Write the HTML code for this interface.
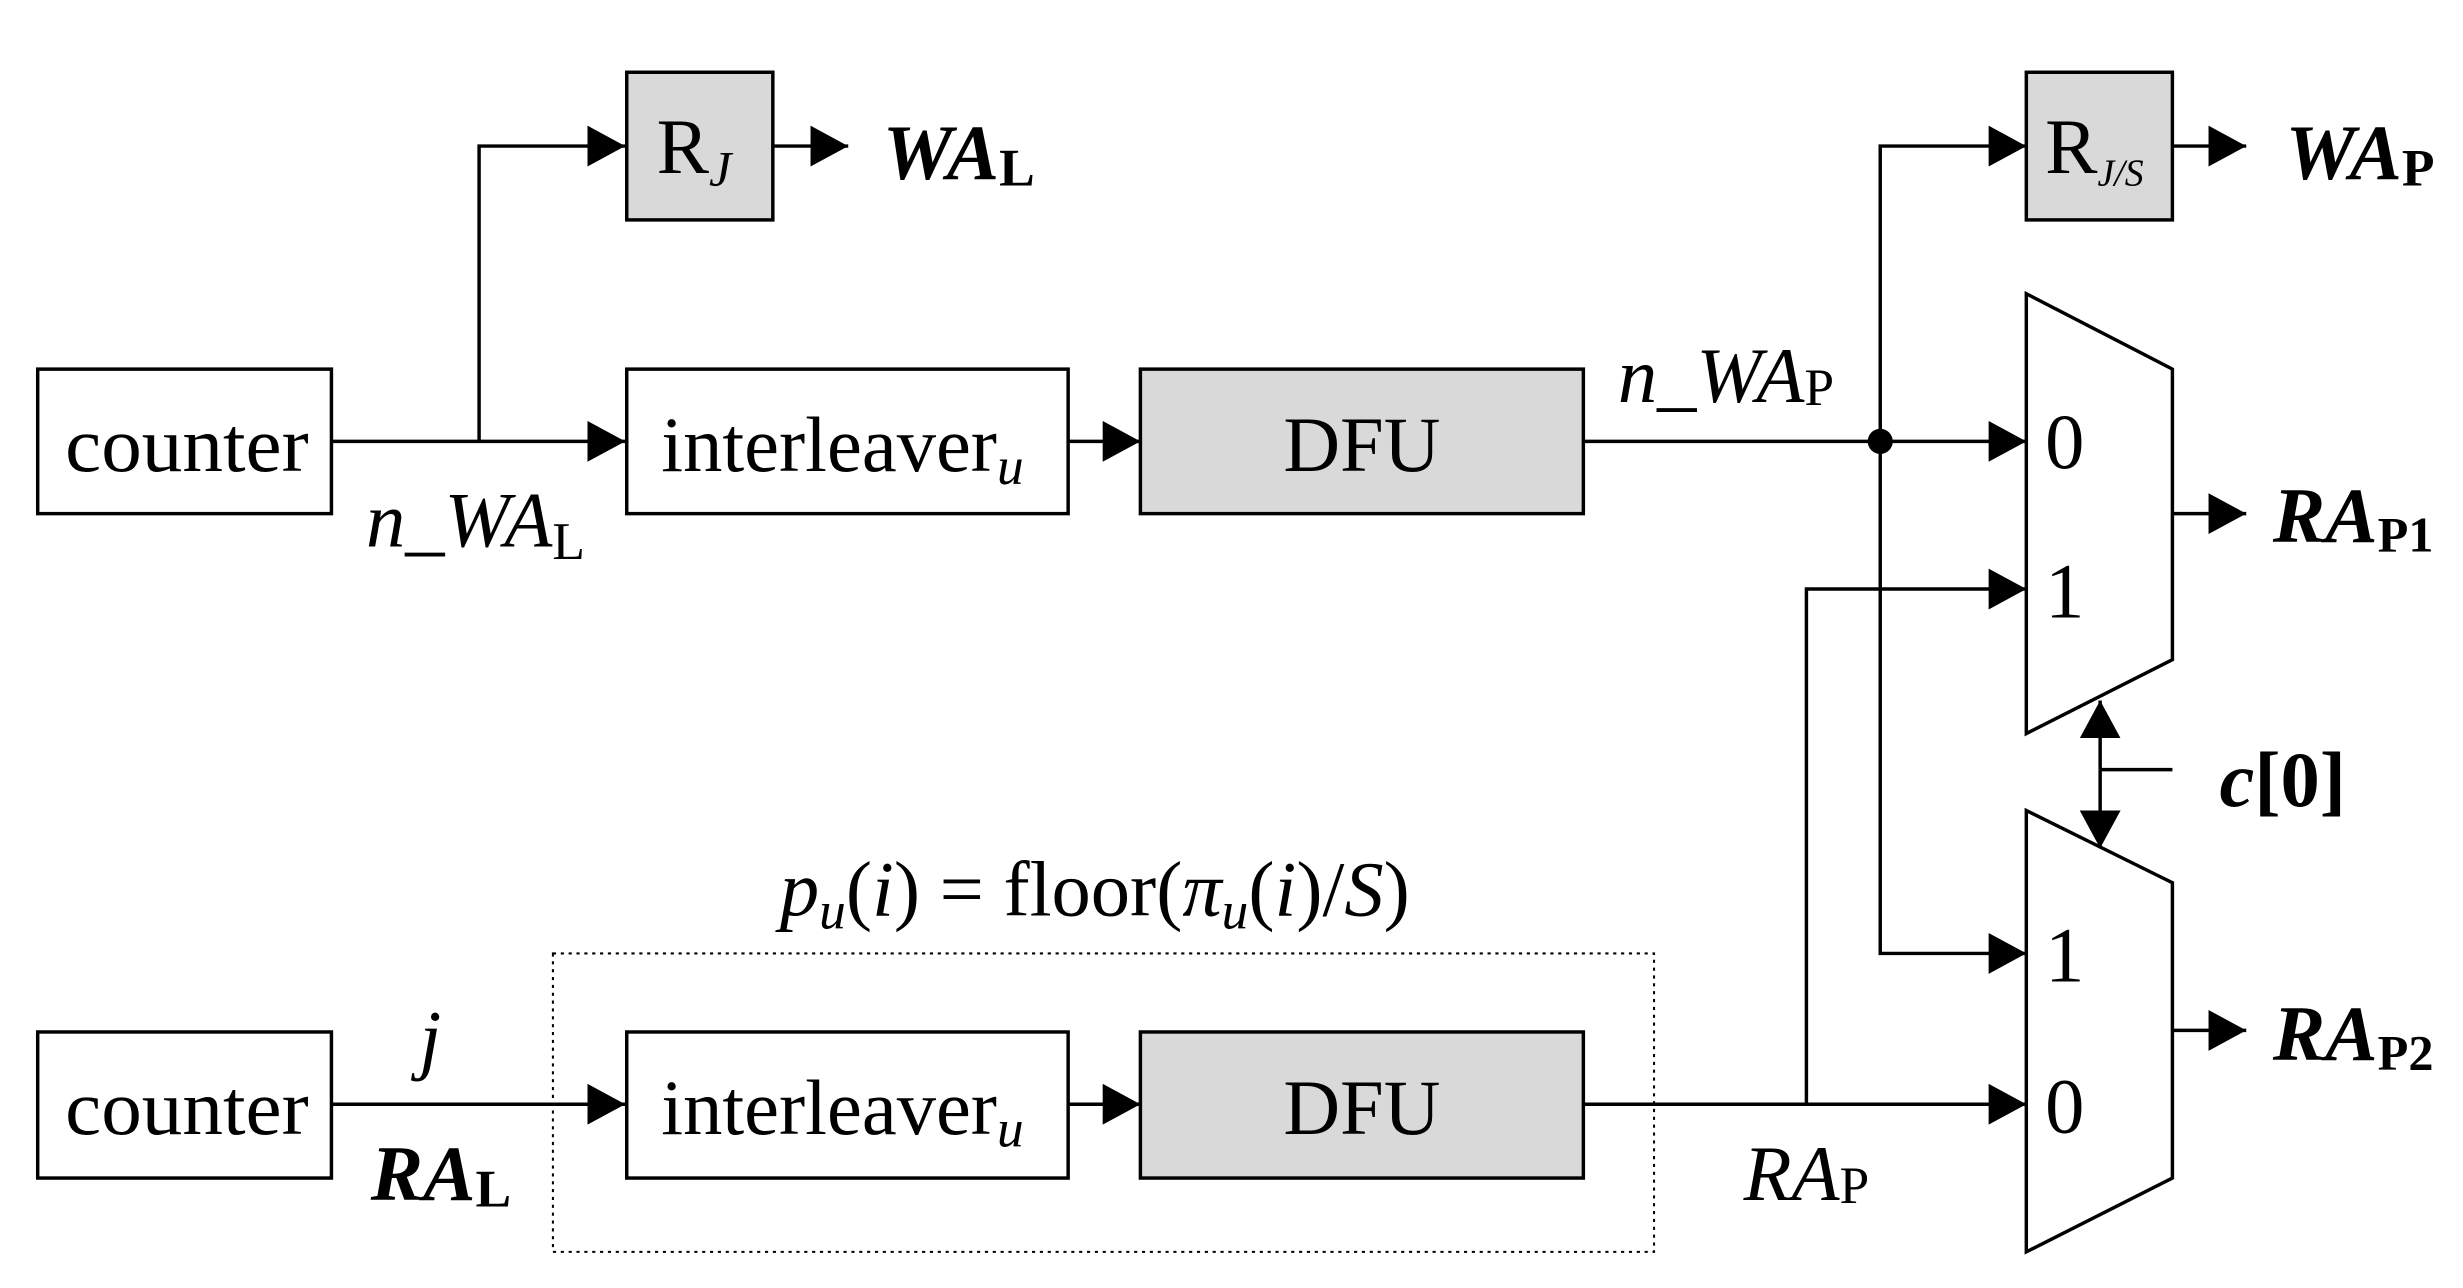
<!DOCTYPE html>
<html><head><meta charset="utf-8"><style>html,body{margin:0;padding:0;background:#fff}svg{display:block}</style></head><body>
<svg width="2463" height="1288" viewBox="0 0 1568 820" preserveAspectRatio="none" xmlns="http://www.w3.org/2000/svg" font-family="'Liberation Serif', serif">
<defs>
<marker id="a" markerWidth="24" markerHeight="26" refX="24" refY="13" orient="auto" markerUnits="userSpaceOnUse"><path d="M0,0 L24,13 L0,26 Z" fill="#000"/></marker>
</defs>
<g stroke="#000" stroke-width="2.2" fill="none">
<rect x="24" y="235" width="187" height="92" fill="#fff"/>
<rect x="399" y="46" width="93" height="94" fill="#d9d9d9"/>
<rect x="399" y="235" width="281" height="92" fill="#fff"/>
<rect x="726" y="235" width="282" height="92" fill="#d9d9d9"/>
<rect x="1290" y="46" width="93" height="94" fill="#d9d9d9"/>
<rect x="24" y="657" width="187" height="93" fill="#fff"/>
<rect x="399" y="657" width="281" height="93" fill="#fff"/>
<rect x="726" y="657" width="282" height="93" fill="#d9d9d9"/>
<rect x="352" y="607" width="701" height="190" stroke-width="1.3" stroke-dasharray="2,3"/>
<path d="M1290,187 L1383,235 L1383,420 L1290,467 Z" fill="#fff"/>
<path d="M1290,516 L1383,562 L1383,750 L1290,797 Z" fill="#fff"/>
<path d="M211,281 H398" marker-end="url(#a)"/>
<path d="M305,281 V93 H398" marker-end="url(#a)"/>
<path d="M492,93 H540" marker-end="url(#a)"/>
<path d="M680,281 H726" marker-end="url(#a)"/>
<path d="M680,703 H726" marker-end="url(#a)"/>
<path d="M1008,281 H1290" marker-end="url(#a)"/>
<path d="M1197,281 V93 H1290" marker-end="url(#a)"/>
<path d="M1197,281 V607 H1290" marker-end="url(#a)"/>
<path d="M1383,93 H1430" marker-end="url(#a)"/>
<path d="M1383,327 H1430" marker-end="url(#a)"/>
<path d="M1383,656 H1430" marker-end="url(#a)"/>
<path d="M1150,703 V375 H1290" marker-end="url(#a)"/>
<path d="M1008,703 H1290" marker-end="url(#a)"/>
<path d="M211,703 H398" marker-end="url(#a)"/>
<path d="M1337,490 V446" marker-end="url(#a)"/>
<path d="M1337,490 V540" marker-end="url(#a)"/>
<path d="M1337,490 H1383"/>
</g>
<circle cx="1197" cy="281" r="8" fill="#000"/>
<g font-size="50" fill="#000">
<text x="119" y="300" text-anchor="middle" textLength="155" lengthAdjust="spacingAndGlyphs">counter</text>
<text x="119" y="722" text-anchor="middle" textLength="155" lengthAdjust="spacingAndGlyphs">counter</text>
<text x="421" y="300">interleaver<tspan font-style="italic" font-size="34" dy="8">u</tspan></text>
<text x="421" y="722">interleaver<tspan font-style="italic" font-size="34" dy="8">u</tspan></text>
<text x="867" y="300" text-anchor="middle">DFU</text>
<text x="867" y="722" text-anchor="middle">DFU</text>
<text x="418" y="110">R<tspan font-style="italic" font-size="32" dy="8">J</tspan></text>
<text x="1302" y="110">R<tspan font-style="italic" font-size="24" dy="8">J/S</tspan></text>
<text x="562" y="114" font-weight="bold" font-style="italic">WA<tspan font-style="normal" font-size="34" dy="4">L</tspan></text>
<text x="1455" y="114" font-weight="bold" font-style="italic">WA<tspan font-style="normal" font-size="34" dy="4">P</tspan></text>
<text x="1447" y="345" font-weight="bold" font-style="italic">RA<tspan font-style="normal" font-size="32" dy="6">P1</tspan></text>
<text x="1447" y="675" font-weight="bold" font-style="italic">RA<tspan font-style="normal" font-size="32" dy="6">P2</tspan></text>
<text x="1413" y="513" font-weight="bold"><tspan font-style="italic">c</tspan>[0]</text>
<text x="233" y="348" font-style="italic">n_WA<tspan font-style="normal" font-size="34" dy="8">L</tspan></text>
<text x="1030" y="256" font-style="italic">n_WA<tspan font-style="normal" font-size="34" dy="2">P</tspan></text>
<text x="267" y="678" font-style="italic">j</text>
<text x="236" y="764" font-weight="bold" font-style="italic">RA<tspan font-style="normal" font-size="34" dy="4">L</tspan></text>
<text x="1110" y="764" font-style="italic">RA<tspan font-style="normal" font-size="34" dy="2">P</tspan></text>
<text x="1302" y="298">0</text>
<text x="1302" y="393">1</text>
<text x="1302" y="625">1</text>
<text x="1302" y="721">0</text>
<text x="697" y="583" text-anchor="middle"><tspan font-style="italic">p</tspan><tspan font-style="italic" font-size="34" dy="8">u</tspan><tspan dy="-8">(</tspan><tspan font-style="italic">i</tspan>) = floor(<tspan font-style="italic">π</tspan><tspan font-style="italic" font-size="34" dy="8">u</tspan><tspan dy="-8">(</tspan><tspan font-style="italic">i</tspan>)/<tspan font-style="italic">S</tspan>)</text>
</g>
</svg>
</body></html>
